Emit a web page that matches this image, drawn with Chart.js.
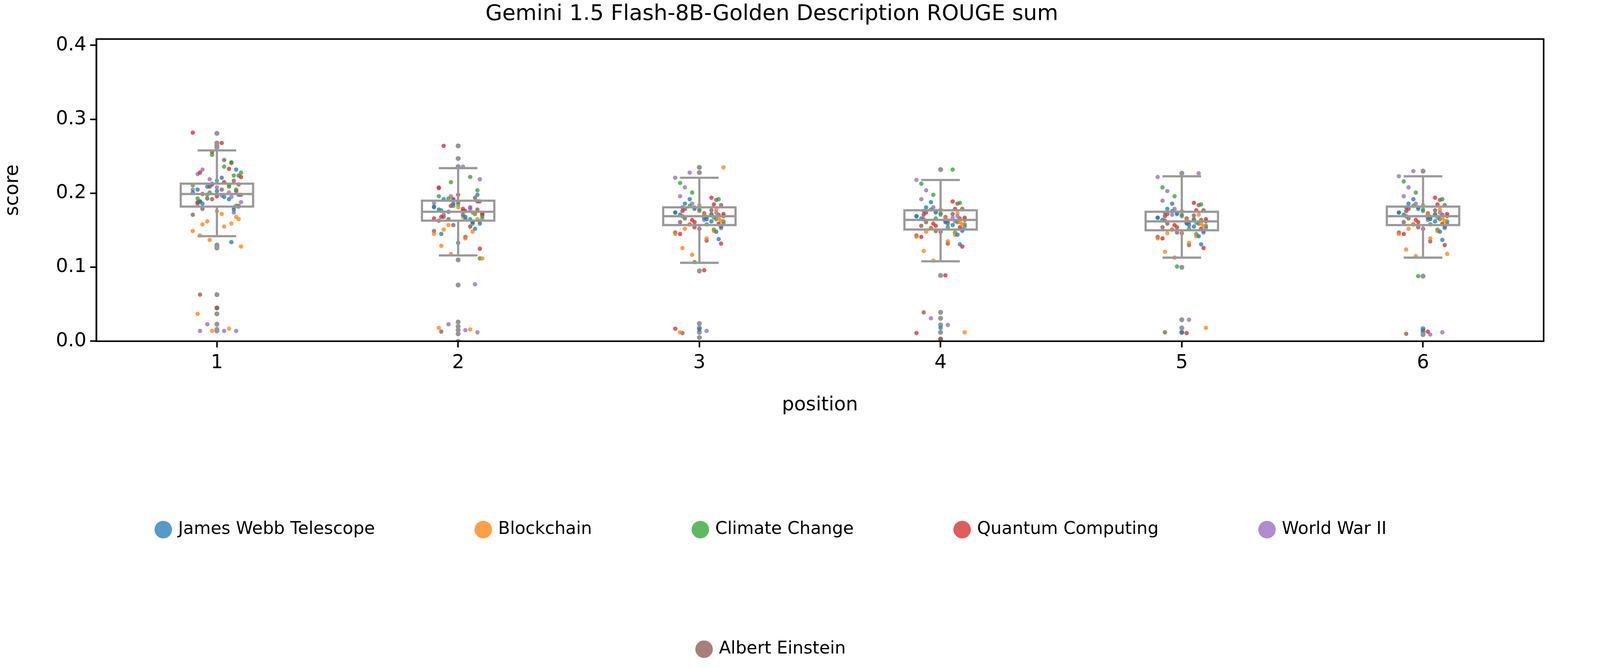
<!DOCTYPE html>
<html>
<head>
<meta charset="utf-8">
<script src="https://cdn.jsdelivr.net/npm/chart.js@4.4.1/dist/chart.umd.min.js"></script>
<style>
  html, body { margin: 0; padding: 0; background: #fff; overflow: hidden; }
  #wrap { position: relative; width: 100vw; height: 100vh; }
</style>
</head>
<body>
<div id="wrap"><canvas id="c"></canvas></div>
<script>
// ---- data ----
const positions = [1, 2, 3, 4, 5, 6];
const yTicks = [0.0, 0.1, 0.2, 0.3, 0.4];
const topics = ["James Webb Telescope", "Blockchain", "Climate Change", "Quantum Computing", "World War II", "Albert Einstein"];
const topicColors = ["31,119,180", "255,127,14", "44,160,44", "214,39,40", "148,103,189", "140,86,75"];

// scores per topic, one array per position
const jwt = [
  [0.205,0.192,0.212,0.198,0.186,0.221,0.201,0.178,0.209,0.195,0.232,0.189,0.203,0.134],
  [0.178,0.165,0.186,0.159,0.192,0.171,0.182,0.152,0.175,0.168,0.198,0.145,0.133,0.161],
  [0.171,0.162,0.179,0.155,0.186,0.167,0.174,0.148,0.192,0.165,0.138,0.181,0.016],
  [0.166,0.157,0.174,0.151,0.181,0.162,0.169,0.144,0.188,0.159,0.131,0.176,0.018],
  [0.164,0.155,0.172,0.149,0.179,0.160,0.167,0.142,0.186,0.157,0.131,0.174,0.012],
  [0.171,0.162,0.179,0.155,0.186,0.167,0.174,0.148,0.192,0.165,0.137,0.181,0.015]
];
const blockchain = [
  [0.165,0.158,0.172,0.149,0.181,0.162,0.155,0.168,0.143,0.176,0.159,0.137,0.128,0.037,0.017,0.014],
  [0.162,0.151,0.168,0.145,0.174,0.157,0.139,0.165,0.129,0.181,0.148,0.118,0.112,0.018,0.016],
  [0.163,0.152,0.171,0.145,0.178,0.158,0.139,0.166,0.126,0.184,0.149,0.117,0.235,0.012],
  [0.158,0.148,0.166,0.141,0.173,0.153,0.135,0.161,0.122,0.178,0.144,0.109,0.012],
  [0.156,0.146,0.164,0.139,0.171,0.151,0.133,0.159,0.121,0.176,0.142,0.113,0.018],
  [0.163,0.152,0.171,0.145,0.178,0.158,0.139,0.166,0.124,0.184,0.149,0.115,0.118]
];
const climate = [
  [0.211,0.224,0.198,0.236,0.205,0.189,0.217,0.242,0.201,0.228,0.193,0.209,0.252,0.183],
  [0.181,0.172,0.193,0.165,0.204,0.177,0.188,0.159,0.215,0.169,0.196,0.222,0.183,0.112],
  [0.174,0.165,0.183,0.158,0.192,0.169,0.178,0.151,0.201,0.162,0.214,0.171,0.107],
  [0.169,0.161,0.178,0.154,0.187,0.165,0.173,0.147,0.198,0.158,0.213,0.232,0.166],
  [0.167,0.159,0.176,0.152,0.185,0.163,0.171,0.145,0.196,0.156,0.208,0.164,0.101],
  [0.174,0.165,0.183,0.158,0.192,0.169,0.178,0.151,0.201,0.162,0.216,0.171,0.088]
];
const quantum = [
  [0.215,0.203,0.228,0.196,0.241,0.209,0.222,0.188,0.233,0.256,0.212,0.199,0.268,0.282],
  [0.176,0.189,0.168,0.198,0.161,0.183,0.172,0.207,0.155,0.192,0.125,0.264,0.179,0.166],
  [0.168,0.159,0.176,0.152,0.185,0.164,0.172,0.145,0.194,0.161,0.132,0.179,0.096,0.017],
  [0.163,0.154,0.171,0.148,0.179,0.159,0.167,0.141,0.189,0.156,0.128,0.174,0.089,0.011],
  [0.161,0.152,0.169,0.146,0.177,0.157,0.165,0.139,0.187,0.154,0.126,0.172,0.011],
  [0.168,0.159,0.176,0.152,0.185,0.164,0.172,0.145,0.194,0.161,0.130,0.179,0.013]
];
const wwii = [
  [0.208,0.195,0.219,0.188,0.226,0.201,0.213,0.182,0.232,0.197,0.205,0.174,0.023,0.014,0.014,0.014],
  [0.185,0.174,0.196,0.166,0.208,0.179,0.191,0.219,0.171,0.236,0.187,0.077,0.023,0.015,0.012],
  [0.176,0.167,0.186,0.159,0.196,0.172,0.181,0.153,0.208,0.164,0.221,0.174,0.228,0.014],
  [0.171,0.162,0.181,0.155,0.192,0.167,0.176,0.149,0.204,0.161,0.218,0.169,0.031,0.022],
  [0.169,0.160,0.179,0.153,0.190,0.165,0.174,0.147,0.203,0.159,0.222,0.227,0.171,0.029],
  [0.176,0.167,0.186,0.159,0.196,0.172,0.181,0.153,0.208,0.164,0.223,0.174,0.230,0.009,0.012]
];
const einstein = [
  [0.198,0.186,0.211,0.192,0.224,0.179,0.205,0.171,0.217,0.193,0.245,0.183,0.063,0.045],
  [0.172,0.163,0.181,0.157,0.189,0.168,0.176,0.149,0.194,0.165,0.141,0.178,0.013],
  [0.169,0.161,0.177,0.154,0.184,0.166,0.173,0.147,0.191,0.158,0.136,0.171,0.011],
  [0.164,0.156,0.172,0.149,0.179,0.161,0.168,0.143,0.186,0.153,0.132,0.166,0.039,0.003],
  [0.162,0.154,0.170,0.147,0.177,0.159,0.166,0.141,0.184,0.151,0.130,0.164,0.012],
  [0.169,0.161,0.177,0.154,0.184,0.166,0.173,0.147,0.191,0.158,0.135,0.171,0.010]
];
const topicScores = [jwt, blockchain, climate, quantum, wwii, einstein];

// fixed horizontal jitter offsets (strip plot)
const jitter = [-0.08,0.05,-0.02,0.09,-0.06,0.02,-0.10,0.07,-0.04,0.03,0.08,-0.07,0.00,0.06,-0.03,0.10];

// box statistics per position
const whiskerLow = [0.142, 0.116, 0.106, 0.108, 0.113, 0.113];
const q1 =         [0.182, 0.163, 0.157, 0.151, 0.150, 0.157];
const median =     [0.199, 0.175, 0.169, 0.164, 0.162, 0.169];
const q3 =         [0.213, 0.190, 0.181, 0.177, 0.175, 0.182];
const whiskerHigh =[0.258, 0.234, 0.221, 0.218, 0.223, 0.223];
const outliers = [
  [0.281,0.268,0.265,0.262,0.130,0.128,0.126,0.063,0.045,0.037,0.023,0.016,0.014],
  [0.264,0.247,0.236,0.110,0.076,0.026,0.020,0.015,0.010,0.000],
  [0.235,0.228,0.095,0.024,0.018,0.012,0.005],
  [0.232,0.089,0.039,0.031,0.022,0.012,0.003],
  [0.227,0.100,0.029,0.018,0.012],
  [0.230,0.088,0.017,0.012,0.009]
];

// everything below was measured on a 5167 px wide picture; scale to the real window
const s = window.innerWidth / 5167;

// ---- build datasets ----
const datasets = topics.map((name, t) => {
  const pts = [];
  topicScores[t].forEach((vals, p) => {
    vals.forEach((v, i) => {
      pts.push({ x: positions[p] + jitter[(i + t * 3) % jitter.length], y: v });
    });
  });
  return {
    label: name,
    data: pts,
    backgroundColor: 'rgba(' + topicColors[t] + ',0.75)',
    borderWidth: 0,
    pointRadius: 7 * s,
    pointHoverRadius: 7 * s
  };
});

const outlierPts = [];
outliers.forEach((vals, p) => vals.forEach(v => outlierPts.push({ x: positions[p], y: v })));
datasets.push({
  label: '_outliers',
  data: outlierPts,
  backgroundColor: 'rgba(150,150,150,1)',
  borderWidth: 0,
  pointRadius: 8 * s
});

// box plots drawn through the scales
const boxPlugin = {
  id: 'boxes',
  afterDatasetsDraw(chart) {
    const { ctx, scales: { x, y }, chartArea } = chart;
    ctx.save();
    ctx.strokeStyle = '#999999';
    ctx.lineWidth = 7 * s;
    positions.forEach((pos, p) => {
      const xl = x.getPixelForValue(pos - 0.15), xr = x.getPixelForValue(pos + 0.15);
      const xc = x.getPixelForValue(pos);
      const cl = x.getPixelForValue(pos - 0.08), cr = x.getPixelForValue(pos + 0.08);
      const yq1 = y.getPixelForValue(q1[p]), yq3 = y.getPixelForValue(q3[p]);
      const yh = y.getPixelForValue(whiskerHigh[p]), yl = y.getPixelForValue(whiskerLow[p]);
      const ym = y.getPixelForValue(median[p]);
      ctx.strokeRect(xl, yq3, xr - xl, yq1 - yq3);
      ctx.beginPath();
      ctx.moveTo(xl, ym); ctx.lineTo(xr, ym);
      ctx.moveTo(xc, yq3); ctx.lineTo(xc, yh);
      ctx.moveTo(xc, yq1); ctx.lineTo(xc, yl);
      ctx.moveTo(cl, yh); ctx.lineTo(cr, yh);
      ctx.moveTo(cl, yl); ctx.lineTo(cr, yl);
      ctx.stroke();
    });
    // frame
    ctx.strokeStyle = '#000';
    ctx.lineWidth = 5 * s;
    ctx.strokeRect(chartArea.left, chartArea.top, chartArea.right - chartArea.left, chartArea.bottom - chartArea.top);
    ctx.restore();
  }
};

Chart.defaults.font.family = 'DejaVu Sans';
Chart.defaults.color = '#000';

new Chart(document.getElementById('c'), {
  type: 'scatter',
  data: { datasets },
  plugins: [boxPlugin],
  options: {
    responsive: true,
    maintainAspectRatio: false,
    animation: false,
    layout: { padding: { top: 0, right: 182 * s, left: 0, bottom: 20 * s } },
    plugins: {
      title: {
        display: true,
        text: 'Gemini 1.5 Flash-8B-Golden Description ROUGE sum',
        font: { size: 70 * s, weight: 'normal' },
        padding: { top: 4 * s, bottom: 38 * s }
      },
      legend: {
        position: 'bottom',
        labels: {
          usePointStyle: true,
          pointStyle: 'circle',
          boxWidth: 40 * s,
          boxHeight: 40 * s,
          padding: 330 * s,
          font: { size: 56 * s },
          filter: item => !item.text.startsWith('_')
        }
      },
      tooltip: { enabled: false }
    },
    scales: {
      x: {
        type: 'linear',
        min: 0.5, max: 6.5,
        afterBuildTicks: ax => { ax.ticks = positions.map(v => ({ value: v })); },
        afterFit: ax => { ax.height = 250 * s; },
        grid: { drawOnChartArea: false, tickLength: 20 * s, tickWidth: 5 * s, color: '#000' },
        border: { color: '#000', width: 5 * s },
        ticks: { font: { size: 62 * s }, padding: 14 * s, callback: v => String(v) },
        title: { display: true, text: 'position', font: { size: 62 * s }, padding: { top: 20 * s } }
      },
      y: {
        min: 0, max: 0.4085,
        afterBuildTicks: ax => { ax.ticks = yTicks.map(v => ({ value: v })); },
        afterFit: ax => { ax.width = 311 * s; },
        grid: { drawOnChartArea: false, tickLength: 20 * s, tickWidth: 5 * s, color: '#000' },
        border: { color: '#000', width: 5 * s },
        ticks: { font: { size: 62 * s }, padding: 12 * s, callback: v => v.toFixed(1) },
        title: { display: true, text: 'score', font: { size: 62 * s }, padding: { bottom: 10 * s } }
      }
    }
  }
});
</script>
</body>
</html>
